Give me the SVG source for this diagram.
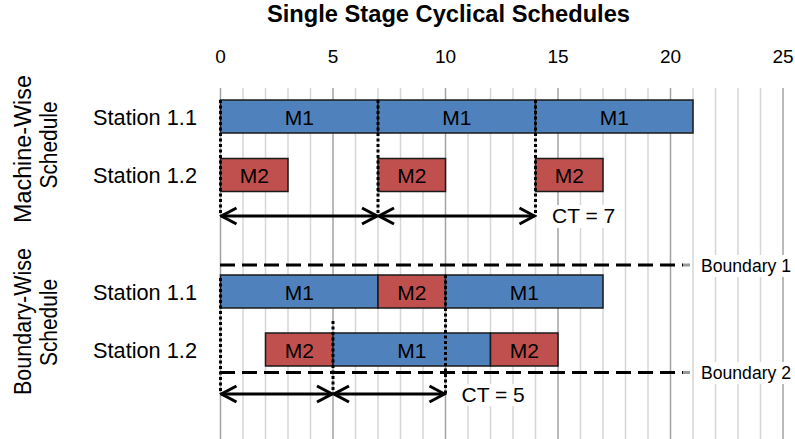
<svg xmlns="http://www.w3.org/2000/svg" width="795" height="439" viewBox="0 0 795 439">
  <style>
    text { font-family: "Liberation Sans", Arial, sans-serif; fill: #000; }
    .title { font-size: 23px; font-weight: bold; }
    .axis { font-size: 19px; text-anchor: middle; }
    .station { font-size: 22px; text-anchor: end; }
    .side { font-size: 23px; text-anchor: middle; }
    .barlabel { font-size: 21px; text-anchor: middle; }
    .note { font-size: 21px; }
    .bnd { font-size: 17.5px; }
    .minor { stroke: #d6d6d6; stroke-width: 1.5; }
    .major { stroke: #a3a3a3; stroke-width: 1.5; }
    .m1 { fill: #4f81bd; stroke: #1a1a1a; stroke-width: 1.5; }
    .m2 { fill: #c0504d; stroke: #1a1a1a; stroke-width: 1.5; }
    .dotted { stroke: #000; stroke-width: 3; stroke-dasharray: 3 2.5; fill: none; }
    .dashed { stroke: #000; stroke-width: 3; stroke-dasharray: 15 7; fill: none; }
    .arrow { stroke: #000; stroke-width: 3; fill: none; marker-start: url(#head); marker-end: url(#head); }
    .bg { fill: #fff; }
  </style>
  <defs>
    <marker id="head" markerUnits="userSpaceOnUse" markerWidth="22" markerHeight="22" viewBox="-20 -11 22 22" refX="0" refY="0" orient="auto-start-reverse">
      <path d="M-15,-8 L0,0 L-15,8" fill="none" stroke="#000" stroke-width="3"/>
    </marker>
  </defs>

  <!-- time grid: one line per unit, darker every 5 units (x = 220.5 + 22.5 t) -->
  <g id="grid">
    <line class="major" x1="220.5" y1="88" x2="220.5" y2="439"/>
    <line class="minor" x1="243" y1="88" x2="243" y2="439"/>
    <line class="minor" x1="265.5" y1="88" x2="265.5" y2="439"/>
    <line class="minor" x1="288" y1="88" x2="288" y2="439"/>
    <line class="minor" x1="310.5" y1="88" x2="310.5" y2="439"/>
    <line class="major" x1="333" y1="88" x2="333" y2="439"/>
    <line class="minor" x1="355.5" y1="88" x2="355.5" y2="439"/>
    <line class="minor" x1="378" y1="88" x2="378" y2="439"/>
    <line class="minor" x1="400.5" y1="88" x2="400.5" y2="439"/>
    <line class="minor" x1="423" y1="88" x2="423" y2="439"/>
    <line class="major" x1="445.5" y1="88" x2="445.5" y2="439"/>
    <line class="minor" x1="468" y1="88" x2="468" y2="439"/>
    <line class="minor" x1="490.5" y1="88" x2="490.5" y2="439"/>
    <line class="minor" x1="513" y1="88" x2="513" y2="439"/>
    <line class="minor" x1="535.5" y1="88" x2="535.5" y2="439"/>
    <line class="major" x1="558" y1="88" x2="558" y2="439"/>
    <line class="minor" x1="580.5" y1="88" x2="580.5" y2="439"/>
    <line class="minor" x1="603" y1="88" x2="603" y2="439"/>
    <line class="minor" x1="625.5" y1="88" x2="625.5" y2="439"/>
    <line class="minor" x1="648" y1="88" x2="648" y2="439"/>
    <line class="major" x1="670.5" y1="88" x2="670.5" y2="439"/>
    <line class="minor" x1="693" y1="88" x2="693" y2="439"/>
    <line class="minor" x1="715.5" y1="88" x2="715.5" y2="439"/>
    <line class="minor" x1="738" y1="88" x2="738" y2="439"/>
    <line class="minor" x1="760.5" y1="88" x2="760.5" y2="439"/>
    <line class="major" x1="783" y1="88" x2="783" y2="439"/>
  </g>

  <text class="title" x="267" y="21.5" textLength="363" lengthAdjust="spacingAndGlyphs">Single Stage Cyclical Schedules</text>

  <g id="axis-labels">
    <text class="axis" x="220.5" y="63">0</text>
    <text class="axis" x="333" y="63">5</text>
    <text class="axis" x="445.5" y="63">10</text>
    <text class="axis" x="558" y="63">15</text>
    <text class="axis" x="670.5" y="63">20</text>
    <text class="axis" x="783" y="63">25</text>
  </g>

  <g id="section-labels">
    <text class="side" transform="translate(31,149) rotate(-90)" textLength="148" lengthAdjust="spacingAndGlyphs">Machine-Wise</text>
    <text class="side" transform="translate(57,145) rotate(-90)" textLength="87" lengthAdjust="spacingAndGlyphs">Schedule</text>
    <text class="side" transform="translate(31,321.5) rotate(-90)" textLength="147" lengthAdjust="spacingAndGlyphs">Boundary-Wise</text>
    <text class="side" transform="translate(57,322.5) rotate(-90)" textLength="87" lengthAdjust="spacingAndGlyphs">Schedule</text>
  </g>

  <g id="station-labels">
    <text class="station" x="197" y="124.5" textLength="104" lengthAdjust="spacingAndGlyphs">Station 1.1</text>
    <text class="station" x="197" y="182.5" textLength="104" lengthAdjust="spacingAndGlyphs">Station 1.2</text>
    <text class="station" x="197" y="299.5" textLength="104" lengthAdjust="spacingAndGlyphs">Station 1.1</text>
    <text class="station" x="197" y="357.5" textLength="104" lengthAdjust="spacingAndGlyphs">Station 1.2</text>
  </g>

  <!-- machine-wise schedule -->
  <g id="mw-s11-m1-a"><rect class="m1" x="220.5" y="100" width="157.5" height="33"/><text class="barlabel" x="299.25" y="124.5">M1</text></g>
  <g id="mw-s11-m1-b"><rect class="m1" x="378" y="100" width="157.5" height="33"/><text class="barlabel" x="456.75" y="124.5">M1</text></g>
  <g id="mw-s11-m1-c"><rect class="m1" x="535.5" y="100" width="157.5" height="33"/><text class="barlabel" x="614.25" y="124.5">M1</text></g>
  <g id="mw-s12-m2-a"><rect class="m2" x="220.5" y="158.5" width="67.5" height="33"/><text class="barlabel" x="254.25" y="183">M2</text></g>
  <g id="mw-s12-m2-b"><rect class="m2" x="378" y="158.5" width="67.5" height="33"/><text class="barlabel" x="411.75" y="183">M2</text></g>
  <g id="mw-s12-m2-c"><rect class="m2" x="535.5" y="158.5" width="67.5" height="33"/><text class="barlabel" x="569.25" y="183">M2</text></g>

  <!-- boundary-wise schedule -->
  <g id="bw-s11-m1-a"><rect class="m1" x="220.5" y="275" width="157.5" height="33"/><text class="barlabel" x="299.25" y="299.5">M1</text></g>
  <g id="bw-s11-m2"><rect class="m2" x="378" y="275" width="67.5" height="33"/><text class="barlabel" x="411.75" y="299.5">M2</text></g>
  <g id="bw-s11-m1-b"><rect class="m1" x="445.5" y="275" width="157.5" height="33"/><text class="barlabel" x="524.25" y="299.5">M1</text></g>
  <g id="bw-s12-m2-a"><rect class="m2" x="265.5" y="333" width="67.5" height="33"/><text class="barlabel" x="299.25" y="357.5">M2</text></g>
  <g id="bw-s12-m1"><rect class="m1" x="333" y="333" width="157.5" height="33"/><text class="barlabel" x="411.75" y="357.5">M1</text></g>
  <g id="bw-s12-m2-b"><rect class="m2" x="490.5" y="333" width="67.5" height="33"/><text class="barlabel" x="524.25" y="357.5">M2</text></g>

  <g id="connectors">
    <!-- cycle markers -->
    <line class="dotted" x1="220.5" y1="100" x2="220.5" y2="216"/>
    <line class="dotted" x1="378" y1="100" x2="378" y2="216"/>
    <line class="dotted" x1="535.5" y1="100" x2="535.5" y2="216"/>
    <line class="dotted" x1="220.5" y1="278" x2="220.5" y2="394"/>
    <line class="dotted" x1="333" y1="321" x2="333" y2="394"/>
    <line class="dotted" x1="445.5" y1="275" x2="445.5" y2="394"/>
    <!-- boundaries -->
    <line class="dashed" x1="220" y1="265" x2="683" y2="265"/>
    <line x1="683" y1="265" x2="690" y2="265" stroke="#999" stroke-width="3"/>
    <line class="dashed" x1="220" y1="372.5" x2="683" y2="372.5"/>
    <line x1="683" y1="372.5" x2="690" y2="372.5" stroke="#999" stroke-width="3"/>
    <!-- cycle-time spans -->
    <line class="arrow" x1="221.5" y1="216" x2="377" y2="216"/>
    <line class="arrow" x1="379" y1="216" x2="534.5" y2="216"/>
    <line class="arrow" x1="221.5" y1="394" x2="332" y2="394"/>
    <line class="arrow" x1="334" y1="394" x2="444.5" y2="394"/>
  </g>

  <g id="ct-mw">
    <rect class="bg" x="549" y="205" width="64" height="23"/>
    <text class="note" x="552" y="223">CT = 7</text>
  </g>
  <g id="ct-bw">
    <rect class="bg" x="459" y="384" width="63" height="22"/>
    <text class="note" x="461.5" y="402">CT = 5</text>
  </g>
  <g id="boundary-1">
    <rect class="bg" x="698" y="255" width="95" height="22"/>
    <text class="bnd" x="701" y="272" textLength="90" lengthAdjust="spacingAndGlyphs">Boundary 1</text>
  </g>
  <g id="boundary-2">
    <rect class="bg" x="698" y="362" width="95" height="22"/>
    <text class="bnd" x="701" y="378.5" textLength="90" lengthAdjust="spacingAndGlyphs">Boundary 2</text>
  </g>
</svg>
